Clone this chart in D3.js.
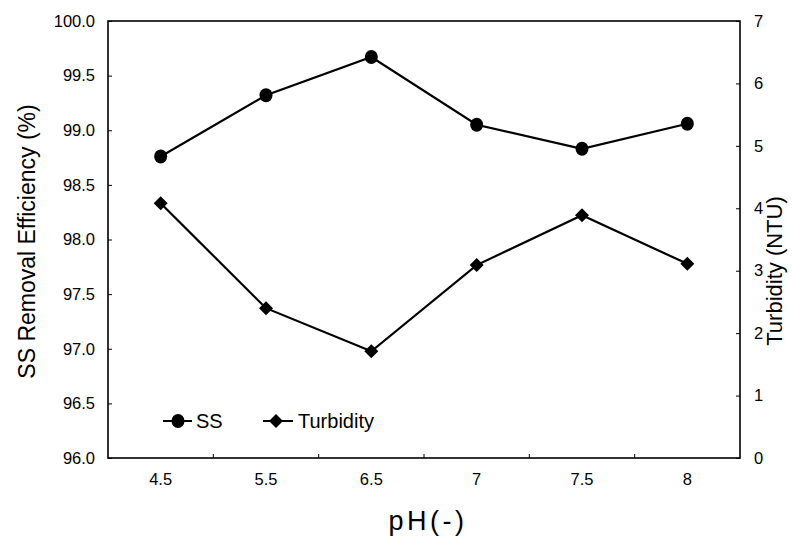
<!DOCTYPE html>
<html><head><meta charset="utf-8">
<script src="https://cdn.jsdelivr.net/npm/d3@7"></script>
<style>body{margin:0;background:#fff}svg{display:block}text{font-family:"Liberation Sans",Arial,sans-serif;fill:#000}</style>
</head><body><svg id="c" width="792" height="540"></svg>
<script>
const categories = ["4.5","5.5","6.5","7","7.5","8"];
const ssValues = [98.76, 99.32, 99.67, 99.05, 98.83, 99.06];
const turbidityValues = [4.08, 2.40, 1.71, 3.09, 3.89, 3.11];
const leftTicks = [96.0,96.5,97.0,97.5,98.0,98.5,99.0,99.5,100.0];
const rightTicks = [0,1,2,3,4,5,6,7];

const svg = d3.select("#c");
const L=108, R=740, T=21, B=458;
const x = d3.scaleBand().domain(categories).range([L,R]);
const yL = d3.scaleLinear().domain([96,100]).range([B,T]);
const yR = d3.scaleLinear().domain([0,7]).range([B,T]);

// frame
svg.append("rect").attr("x",L).attr("y",T).attr("width",R-L).attr("height",B-T)
  .attr("fill","none").attr("stroke","#000").attr("stroke-width",1.6);

// left axis
const gl = svg.append("g").attr("transform",`translate(${L},0)`)
  .call(d3.axisLeft(yL).tickValues(leftTicks).tickFormat(d3.format(".1f")).tickSizeInner(-4).tickSizeOuter(0).tickPadding(13));
gl.select(".domain").remove();
gl.selectAll("text").attr("font-size",16.5).attr("font-family","Liberation Sans, Arial");
// right axis
const gr = svg.append("g").attr("transform",`translate(${R},0)`)
  .call(d3.axisRight(yR).tickValues(rightTicks).tickFormat(d3.format("d")).tickSizeInner(-4).tickSizeOuter(0).tickPadding(14));
gr.select(".domain").remove();
gr.selectAll("text").attr("font-size",16.5).attr("font-family","Liberation Sans, Arial");
// bottom axis: labels at band centres, ticks at band boundaries
const gb = svg.append("g").attr("transform",`translate(0,${B})`)
  .call(d3.axisBottom(x).tickSize(0).tickPadding(15));
gb.select(".domain").remove();
gb.selectAll("text").attr("font-size",16.5).attr("font-family","Liberation Sans, Arial");
svg.append("g").selectAll("line").data(categories.slice(1)).join("line")
  .attr("x1",d=>x(d)).attr("x2",d=>x(d)).attr("y1",B).attr("y2",B-4)
  .attr("stroke","#000").attr("stroke-width",1);
svg.selectAll(".tick line").attr("stroke","#000");

// axis titles
svg.append("text").attr("transform",`translate(35,${(T+B)/2+2}) rotate(-90)`)
  .attr("text-anchor","middle").attr("font-size",23).text("SS Removal Efficiency (%)");
svg.append("text").attr("transform",`translate(782,271) rotate(-90)`)
  .attr("text-anchor","middle").attr("font-size",22).text("Turbidity (NTU)");
svg.append("text").attr("x",(L+R)/2+4).attr("y",530).attr("text-anchor","middle")
  .attr("font-size",27).attr("letter-spacing",3.5).text("pH(-)");

const cx = d => x(d)+x.bandwidth()/2;
// SS line
const lineL = d3.line().x((d,i)=>cx(categories[i])).y(d=>yL(d));
svg.append("path").attr("d",lineL(ssValues)).attr("fill","none").attr("stroke","#000").attr("stroke-width",2.2);
svg.append("g").selectAll("ellipse").data(ssValues).join("ellipse")
  .attr("cx",(d,i)=>cx(categories[i])).attr("cy",d=>yL(d)).attr("rx",6.5).attr("ry",7).attr("fill","#000");
// Turbidity line
const lineR = d3.line().x((d,i)=>cx(categories[i])).y(d=>yR(d));
svg.append("path").attr("d",lineR(turbidityValues)).attr("fill","none").attr("stroke","#000").attr("stroke-width",2.2);
const diamond = (px,py,s)=>`M${px},${py-s}L${px+s},${py}L${px},${py+s}L${px-s},${py}Z`;
svg.append("g").selectAll("path").data(turbidityValues).join("path")
  .attr("d",(d,i)=>diamond(cx(categories[i]),yR(d),7)).attr("fill","#000");

// legend
const lg = svg.append("g");
const ly = 421;
lg.append("line").attr("x1",163).attr("x2",192).attr("y1",ly).attr("y2",ly).attr("stroke","#000").attr("stroke-width",2);
lg.append("ellipse").attr("cx",178).attr("cy",ly).attr("rx",6.5).attr("ry",7).attr("fill","#000");
lg.append("text").attr("x",196).attr("y",ly+7).attr("font-size",20).text("SS");
lg.append("line").attr("x1",263).attr("x2",293).attr("y1",ly).attr("y2",ly).attr("stroke","#000").attr("stroke-width",2);
lg.append("path").attr("d",diamond(276,ly,7)).attr("fill","#000");
lg.append("text").attr("x",298).attr("y",ly+7).attr("font-size",20).text("Turbidity");
</script></body></html>
